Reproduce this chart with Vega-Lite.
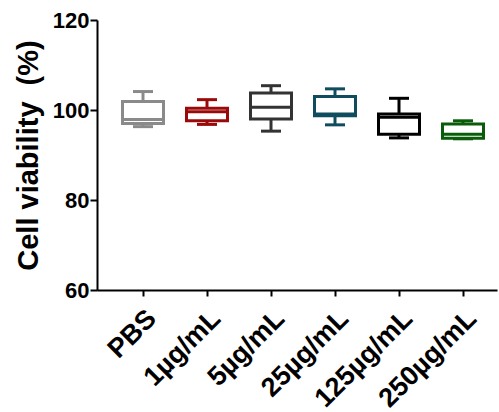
{
  "$schema": "https://vega.github.io/schema/vega-lite/v6.json",
  "autosize": "none",
  "padding": {"left": 97, "top": 20, "right": 2, "bottom": 122},
  "width": 400,
  "height": 270,
  "background": "white",
  "config": {"view": {"stroke": null}, "font": "Liberation Sans"},
  "data": {
    "values": [
      {"group": "PBS", "min": 96.3, "q1": 97.0, "median": 97.9, "q3": 101.9, "max": 104.1},
      {"group": "1µg/mL", "min": 96.8, "q1": 97.6, "median": 99.6, "q3": 100.4, "max": 102.3},
      {"group": "5µg/mL", "min": 95.3, "q1": 98.0, "median": 100.6, "q3": 103.8, "max": 105.4},
      {"group": "25µg/mL", "min": 96.7, "q1": 98.7, "median": 99.1, "q3": 103.0, "max": 104.7},
      {"group": "125µg/mL", "min": 93.8, "q1": 94.6, "median": 98.4, "q3": 99.1, "max": 102.6},
      {"group": "250µg/mL", "min": 93.6, "q1": 93.7, "median": 94.6, "q3": 96.9, "max": 97.6}
    ]
  },
  "encoding": {
    "x": {
      "field": "group",
      "type": "nominal",
      "sort": null,
      "scale": {"paddingInner": 0, "paddingOuter": 0.125, "align": 0.875},
      "axis": {
        "title": null,
        "labelAngle": -45,
        "labelFontSize": 27,
        "labelFontWeight": "bold",
        "labelColor": "black",
        "labelPadding": 9,
        "labelDx": -2,
        "tickSize": 6,
        "tickWidth": 2,
        "tickColor": "black",
        "domainColor": "black",
        "domainWidth": 2,
        "grid": false
      }
    }
  },
  "layer": [
    {
      "mark": {"type": "rule", "strokeWidth": 3},
      "encoding": {
        "y": {
          "field": "min",
          "type": "quantitative",
          "scale": {"domain": [60, 120], "nice": false, "zero": false},
          "axis": {
            "values": [60, 80, 100, 120],
            "title": "Cell viability\u00a0 (%)",
            "titleFontSize": 29,
            "titleFontWeight": "bold",
            "titleColor": "black",
            "titlePadding": 9,
            "labelFontSize": 22,
            "labelFontWeight": "bold",
            "labelColor": "black",
            "labelPadding": 1,
            "tickSize": 7,
            "tickWidth": 2,
            "tickColor": "black",
            "domainColor": "black",
            "domainWidth": 2,
            "grid": false
          }
        },
        "y2": {"field": "max"},
        "color": {
          "field": "group",
          "type": "nominal",
          "sort": null,
          "scale": {
            "domain": ["PBS", "1µg/mL", "5µg/mL", "25µg/mL", "125µg/mL", "250µg/mL"],
            "range": ["#8a8a8a", "#9b0a0a", "#333333", "#0f4d5e", "#000000", "#0a5c0a"]
          },
          "legend": null
        }
      }
    },
    {
      "mark": {"type": "bar", "size": 41, "fill": "white", "strokeWidth": 3},
      "encoding": {
        "y": {"field": "q1", "type": "quantitative"},
        "y2": {"field": "q3"},
        "stroke": {
          "field": "group",
          "type": "nominal",
          "sort": null,
          "scale": {
            "domain": ["PBS", "1µg/mL", "5µg/mL", "25µg/mL", "125µg/mL", "250µg/mL"],
            "range": ["#8a8a8a", "#9b0a0a", "#333333", "#0f4d5e", "#000000", "#0a5c0a"]
          },
          "legend": null
        }
      }
    },
    {
      "mark": {"type": "tick", "size": 41, "thickness": 3, "opacity": 1},
      "encoding": {
        "y": {"field": "median", "type": "quantitative"},
        "color": {"field": "group", "type": "nominal", "sort": null, "legend": null}
      }
    },
    {
      "mark": {"type": "tick", "size": 20, "thickness": 3, "opacity": 1},
      "encoding": {
        "y": {"field": "min", "type": "quantitative"},
        "color": {"field": "group", "type": "nominal", "sort": null, "legend": null}
      }
    },
    {
      "mark": {"type": "tick", "size": 20, "thickness": 3, "opacity": 1},
      "encoding": {
        "y": {"field": "max", "type": "quantitative"},
        "color": {"field": "group", "type": "nominal", "sort": null, "legend": null}
      }
    }
  ]
}
